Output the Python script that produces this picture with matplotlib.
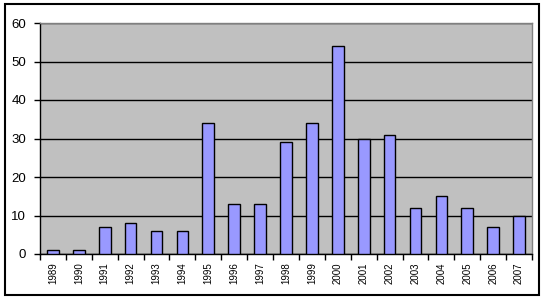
import numpy as np
import matplotlib.pyplot as plt
from matplotlib.patches import Rectangle

years = ['1989', '1990', '1991', '1992', '1993', '1994', '1995', '1996', '1997', '1998',
         '1999', '2000', '2001', '2002', '2003', '2004', '2005', '2006', '2007']
counts = [1, 1, 7, 8, 6, 6, 34, 13, 13, 29, 34, 54, 30, 31, 12, 15, 12, 7, 10]

plt.rcParams['font.family'] = ['Liberation Sans', 'DejaVu Sans']

fig = plt.figure(figsize=(5.44, 3.00), dpi=100)
ax = fig.add_axes([40 / 544, 46 / 300, 492 / 544, 231 / 300])

x = np.arange(len(years))
ax.set_facecolor('#C0C0C0')
ax.bar(x, counts, width=0.45, color='#9999FF', edgecolor='black', linewidth=1, zorder=3)

ax.set_xlim(-0.5, len(years) - 0.5)
ax.set_ylim(0, 60)
ax.set_yticks(np.arange(0, 61, 10))
ax.yaxis.grid(True, color='black', linewidth=1, zorder=1)
ax.set_axisbelow(True)

# labels centred on categories, tick marks on category boundaries
ax.set_xticks(x)
ax.set_xticklabels(years, rotation=90, fontsize=7)
ax.set_xticks(np.arange(-0.5, len(years)), minor=True)
ax.tick_params(axis='x', which='major', length=0, pad=6)
ax.tick_params(axis='x', which='minor', length=4, width=1, direction='out')
ax.tick_params(axis='y', length=4, width=1, labelsize=9.5, pad=6)

for side in ['top', 'right']:
    ax.spines[side].set_color('#808080')
    ax.spines[side].set_linewidth(1)
for side in ['left', 'bottom']:
    ax.spines[side].set_color('black')
    ax.spines[side].set_linewidth(1)

# chart border
fig.patches.append(Rectangle((5 / 544, 5 / 300), 534 / 544, 291 / 300,
                             transform=fig.transFigure, fill=False,
                             edgecolor='black', linewidth=1.5))

fig.savefig('out.png', dpi=100)
